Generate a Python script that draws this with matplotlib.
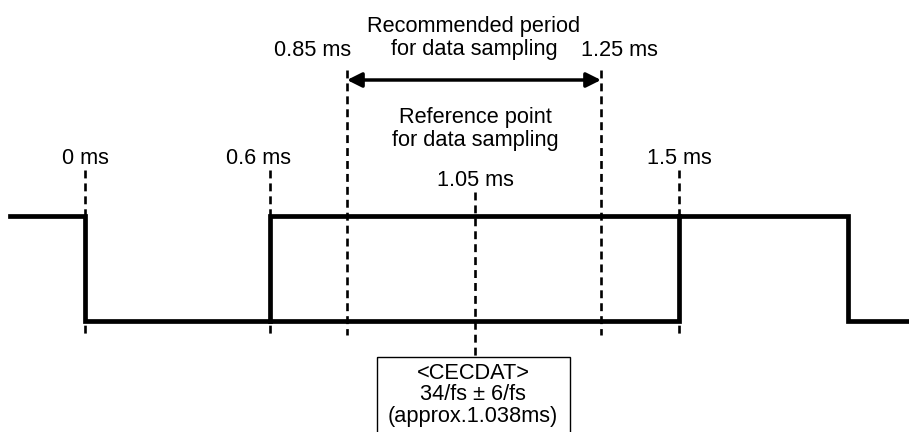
import matplotlib.pyplot as plt
from matplotlib.patches import Rectangle

plt.rcParams['font.family'] = ['Liberation Sans', 'DejaVu Sans']

# schematic positions (picture units, y grows downward)
HIGH = 216
LOW = 321

# main waveform path
wave_x = [10, 85, 85, 679, 679, 848, 848, 909]
wave_y = [HIGH, HIGH, LOW, LOW, HIGH, HIGH, LOW, LOW]
# upper edge of the data window
win_x = [270, 270, 679]
win_y = [LOW, HIGH, HIGH]

# timing markers: x, label, label x, label y, dash top, dash bottom
mark_x = [85, 270, 347, 475, 601, 679]
mark_labels = ['0 ms', '0.6 ms', '0.85 ms', '1.05 ms', '1.25 ms', '1.5 ms']
label_x = [85, 258, 313, 475, 619, 679]
label_y = [158, 158, 50, 181, 50, 158]
dash_top = [170, 170, 70, 192, 70, 170]
dash_bot = [337, 337, 335, 357, 335, 337]

period_x = [347, 601]
period_y = 80

FS = 15.7

fig = plt.figure(figsize=(9.09, 4.32), dpi=100)
ax = fig.add_axes([0, 0, 1, 1])
ax.set_xlim(0, 909)
ax.set_ylim(432, 0)
ax.axis('off')

for x, t, b in zip(mark_x, dash_top, dash_bot):
    ax.plot([x, x], [t, b], color='black', lw=1.9, ls=(0, (3.0, 1.9)))

ax.plot(wave_x, wave_y, color='black', lw=3.4, solid_joinstyle='miter')
ax.plot(win_x, win_y, color='black', lw=3.4, solid_joinstyle='miter')

for lx, ly, s in zip(label_x, label_y, mark_labels):
    ax.text(lx, ly, s, ha='center', va='center', fontsize=FS)

ax.annotate('', xy=(period_x[0], period_y), xytext=(period_x[1], period_y),
            arrowprops=dict(arrowstyle='<|-|>', color='black', lw=2.5,
                            mutation_scale=22, shrinkA=0, shrinkB=0))

ax.text(474, 38, 'Recommended period\nfor data sampling', ha='center',
        va='center', fontsize=FS, linespacing=1.1)
ax.text(475, 129, 'Reference point\nfor data sampling', ha='center',
        va='center', fontsize=FS, linespacing=1.1)

ax.add_patch(Rectangle((377, 357), 193, 90, fill=False, ec='black', lw=1))
ax.text(473, 395, '<CECDAT>\n34/fs ± 6/fs\n(approx.1.038ms)', ha='center',
        va='center', fontsize=FS, linespacing=1.05)

fig.savefig('out.png', dpi=100)
